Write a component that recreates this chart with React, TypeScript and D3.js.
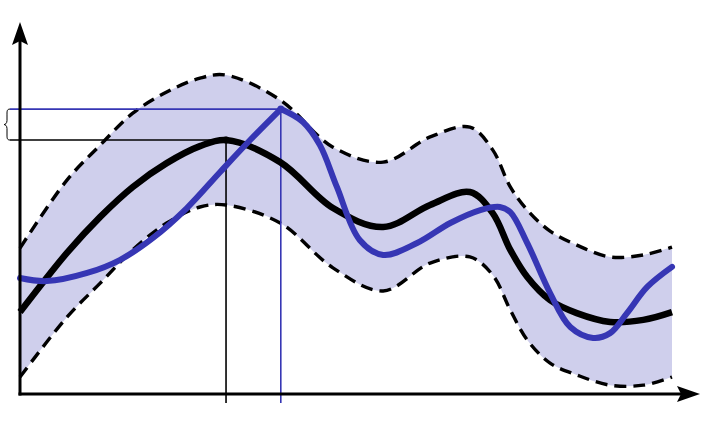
import React, { useEffect, useRef } from 'react';
import * as d3 from 'd3';

// sample positions shared by the mean and the band
const xs = [0, 0.72, 1.23, 1.73, 2.25, 2.76, 3.16, 3.99, 4.8, 5.57, 6.29, 6.9, 7.25, 7.52, 7.78, 8.13, 8.54, 9.05, 9.56, 10];
const meanVals = [2.41, 4.15, 5.21, 6.09, 6.79, 7.29, 7.47, 6.82, 5.47, 4.91, 5.56, 5.94, 5.32, 4.24, 3.44, 2.76, 2.38, 2.12, 2.18, 2.41];
const upperVals = [4.29, 6.29, 7.32, 8.26, 8.88, 9.29, 9.38, 8.65, 7.26, 6.82, 7.56, 7.85, 7.18, 6.09, 5.41, 4.79, 4.38, 4.03, 4.09, 4.32];
const lowerVals = [0.5, 2.26, 3.26, 4.24, 5.03, 5.5, 5.56, 5.03, 3.71, 3.03, 3.85, 4.03, 3.5, 2.47, 1.59, 0.91, 0.56, 0.26, 0.26, 0.5];

// the sampled function (blue)
const sampleXs = [0, 0.41, 1.03, 1.53, 2.04, 2.56, 3.07, 3.53, 4.0, 4.34, 4.6, 4.86, 5.21, 5.57, 6.09, 6.6, 7.06, 7.36, 7.52, 7.78, 8.13, 8.44, 8.79, 9.05, 9.31, 9.62, 10];
const sampleVals = [3.41, 3.32, 3.56, 3.94, 4.59, 5.47, 6.53, 7.47, 8.38, 8.0, 7.32, 6.09, 4.53, 4.09, 4.44, 5.03, 5.41, 5.5, 5.35, 4.44, 2.97, 1.97, 1.65, 1.79, 2.38, 3.15, 3.74];

const BLUE = '#3636b4';
const BAND = '#cfcfec';

const App = () => {
	const ref = useRef<SVGSVGElement>(null);

	useEffect(() => {
		const svg = d3.select(ref.current);
		svg.selectAll('*').remove();

		const x = d3.scaleLinear().domain([0, 10]).range([20, 672]);
		const y = d3.scaleLinear().domain([0, 10]).range([394, 54]);

		const rows = xs.map((v, i) => ({ x: v, m: meanVals[i], u: upperVals[i], l: lowerVals[i] }));
		const samples = sampleXs.map((v, i) => ({ x: v, y: sampleVals[i] }));

		const curve = d3.curveCatmullRom.alpha(0.5);

		svg.append('path')
			.datum(rows)
			.attr('fill', BAND)
			.attr('d', d3.area<any>().x(d => x(d.x)).y0(d => y(d.l)).y1(d => y(d.u)).curve(curve));

		['u', 'l'].forEach(k => {
			svg.append('path')
				.datum(rows)
				.attr('fill', 'none')
				.attr('stroke', '#000')
				.attr('stroke-width', 3.4)
				.attr('stroke-dasharray', '12 7')
				.attr('d', d3.line<any>().x(d => x(d.x)).y(d => y(d[k])).curve(curve));
		});

		// peak guides
		const meanPeak = rows[d3.maxIndex(rows, d => d.m)];
		const peakIdx = d3.maxIndex(samples, d => d.y);
		const samplePeak = samples[peakIdx];
		const guides = [
			{ px: meanPeak.x, py: meanPeak.m, color: '#000' },
			{ px: samplePeak.x, py: samplePeak.y, color: BLUE },
		];
		const yLow = y(0) + 9;
		guides.forEach(g => {
			svg.append('line')
				.attr('x1', x(g.px)).attr('x2', x(g.px))
				.attr('y1', y(g.py)).attr('y2', yLow)
				.attr('stroke', g.color).attr('stroke-width', 1.6);
			svg.append('line')
				.attr('x1', 10).attr('x2', x(g.px))
				.attr('y1', y(g.py)).attr('y2', y(g.py))
				.attr('stroke', g.color).attr('stroke-width', 1.6);
		});

		svg.append('path')
			.datum(rows)
			.attr('fill', 'none')
			.attr('stroke', '#000')
			.attr('stroke-width', 6.5)
			.attr('stroke-linejoin', 'round')
			.attr('d', d3.line<any>().x(d => x(d.x)).y(d => y(d.m)).curve(curve));

		// blue curve has a kink at its maximum, so draw it as two pieces
		const blueLine = d3.line<any>().x(d => x(d.x)).y(d => y(d.y)).curve(curve);
		[samples.slice(0, peakIdx + 1), samples.slice(peakIdx)].forEach(part => {
			svg.append('path')
				.datum(part)
				.attr('fill', 'none')
				.attr('stroke', BLUE)
				.attr('stroke-width', 6)
				.attr('stroke-linecap', 'round')
				.attr('d', blueLine);
		});

		guides.forEach(g => {
			svg.append('circle')
				.attr('cx', x(g.px)).attr('cy', y(g.py)).attr('r', 3.5)
				.attr('fill', g.color);
		});

		// curly brace between the two peak levels
		const b0 = y(samplePeak.y);
		const b1 = y(meanPeak.m);
		const bm = (b0 + b1) / 2;
		const bx = 10;
		svg.append('path')
			.attr('fill', 'none')
			.attr('stroke', '#000')
			.attr('stroke-width', 1)
			.attr('d', `M${bx},${b0} C${bx - 3},${b0} ${bx - 3},${b0 + 2} ${bx - 3},${b0 + 5} L${bx - 3},${bm - 4} C${bx - 3},${bm - 1} ${bx - 5},${bm} ${bx - 6},${bm} C${bx - 5},${bm} ${bx - 3},${bm + 1} ${bx - 3},${bm + 4} L${bx - 3},${b1 - 5} C${bx - 3},${b1 - 2} ${bx - 3},${b1} ${bx},${b1}`);

		// axes with arrow heads
		const x0 = x(0), y0 = y(0);
		svg.append('line').attr('x1', x0).attr('x2', x0).attr('y1', y0 + 1.5).attr('y2', 40)
			.attr('stroke', '#000').attr('stroke-width', 3);
		svg.append('line').attr('x1', x0 - 1.5).attr('x2', 684).attr('y1', y0).attr('y2', y0)
			.attr('stroke', '#000').attr('stroke-width', 3);
		svg.append('path').attr('fill', '#000')
			.attr('d', `M${x0},22 L${x0 + 8},45 L${x0},41 L${x0 - 8},45 Z`);
		svg.append('path').attr('fill', '#000')
			.attr('d', `M700,${y0} L677,${y0 - 8} L681,${y0} L677,${y0 + 8} Z`);
	}, []);

	return (
		<svg ref={ref} width={705} height={442} style={{ position: 'absolute', left: 0, top: 0 }} />
	);
};

export default App;
